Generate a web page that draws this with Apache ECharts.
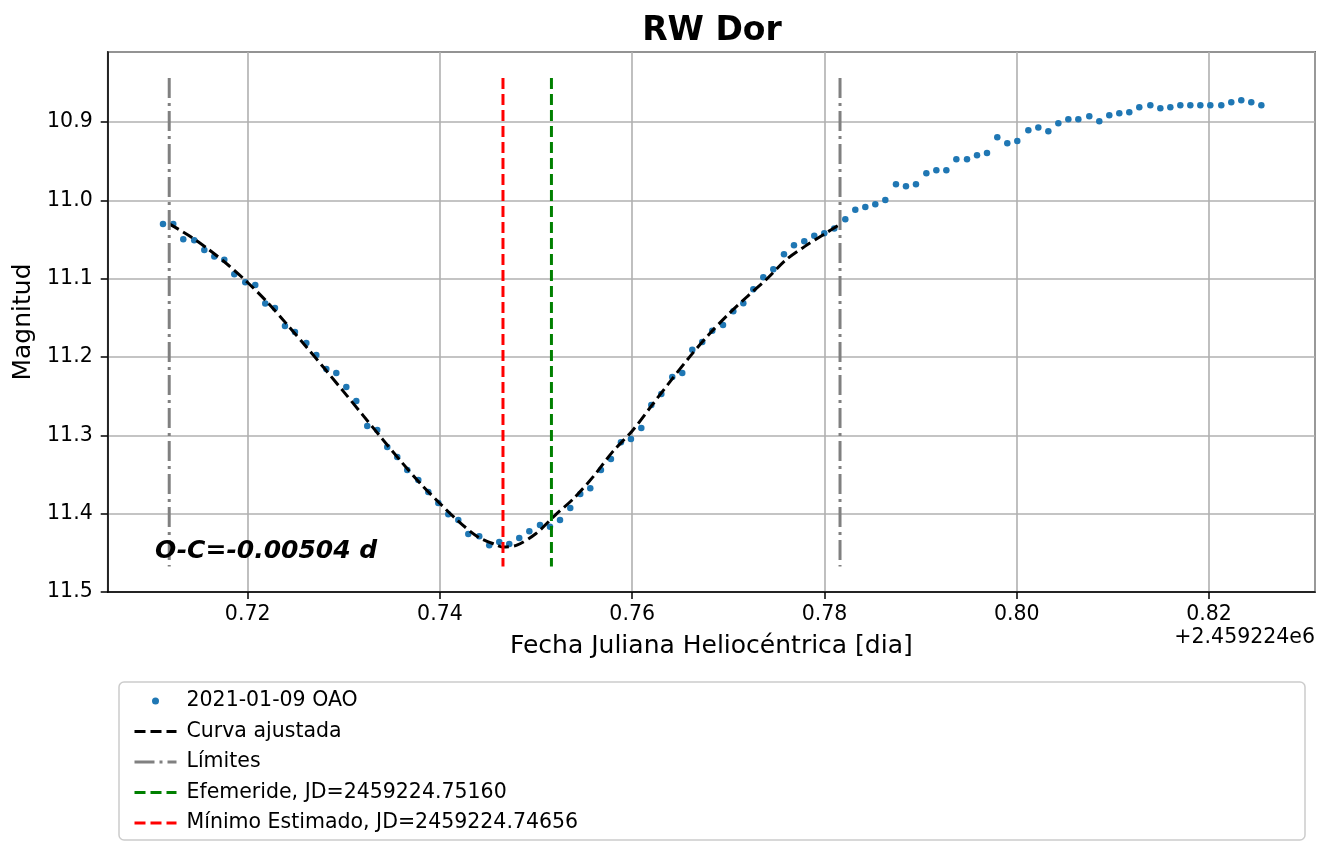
<!DOCTYPE html>
<html>
<head>
<meta charset="utf-8">
<script src="https://cdn.jsdelivr.net/npm/echarts@6/dist/echarts.min.js"></script>
<style>
html,body{margin:0;padding:0;background:#fff;}
#chart{width:1334px;height:856px;}
</style>
</head>
<body>
<div id="chart"></div>
<script>
const obsX = [0.71119,0.71226,0.71330,0.71444,0.71549,0.71653,0.71757,0.71861,0.71975,0.72079,
0.72183,0.72284,0.72388,0.72492,0.72610,0.72714,0.72818,0.72922,0.73026,0.73130,
0.73244,0.73348,0.73452,0.73556,0.73660,0.73775,0.73879,0.73983,0.74087,0.74191,
0.74295,0.74409,0.74513,0.74617,0.74721,0.74825,0.74930,0.75041,0.75145,0.75249,
0.75356,0.75460,0.75564,0.75675,0.75779,0.75883,0.75987,0.76095,0.76199,0.76303,
0.76417,0.76521,0.76625,0.76729,0.76833,0.76945,0.77052,0.77156,0.77260,0.77364,
0.77468,0.77579,0.77683,0.77790,0.77894,0.77998,0.78102,0.78217,0.78321,0.78425,
0.78529,0.78633,0.78744,0.78848,0.78952,0.79060,0.79164,0.79268,0.79372,0.79483,
0.79587,0.79691,0.79798,0.79902,0.80006,0.80121,0.80225,0.80329,0.80433,0.80537,
0.80641,0.80755,0.80859,0.80963,0.81067,0.81171,0.81275,0.81390,0.81494,0.81598,
0.81702,0.81806,0.81910,0.82014,0.82128,0.82232,0.82336,0.82440,0.82545];
const obsMag = [11.0301,11.0301,11.0496,11.0509,11.0636,11.0718,11.0760,11.0943,11.1045,11.1080,
11.1318,11.1376,11.1606,11.1682,11.1822,11.1976,11.2154,11.2205,11.2384,11.2562,
11.2881,11.2932,11.3149,11.3277,11.3443,11.3570,11.3723,11.3863,11.4009,11.4080,
11.4259,11.4289,11.4404,11.4361,11.4386,11.4310,11.4226,11.4144,11.4166,11.4080,
11.3927,11.3749,11.3677,11.3443,11.3303,11.3090,11.3047,11.2907,11.2614,11.2473,
11.2256,11.2205,11.1908,11.1810,11.1666,11.1593,11.1415,11.1313,11.1134,11.0981,
11.0879,11.0688,11.0573,11.0522,11.0454,11.0420,11.0361,11.0241,11.0122,11.0084,
11.0050,10.9995,10.9795,10.9820,10.9795,10.9654,10.9616,10.9616,10.9476,10.9476,
10.9425,10.9395,10.9195,10.9272,10.9242,10.9106,10.9071,10.9119,10.9017,10.8966,
10.8966,10.8927,10.8991,10.8915,10.8889,10.8876,10.8813,10.8787,10.8825,10.8813,
10.8787,10.8787,10.8787,10.8787,10.8787,10.8749,10.8723,10.8749,10.8787];

const fitX = [0.71184,0.714,0.716,0.718,0.720,0.722,0.724,0.726,0.728,0.730,0.732,0.734,0.736,0.738,0.740,0.742,0.744,0.746,0.74656,0.748,0.750,0.752,0.754,0.756,0.758,0.760,0.762,0.764,0.766,0.768,0.770,0.772,0.774,0.776,0.778,0.780,0.78162];
const fitMag = [11.0301,11.0458,11.0633,11.0829,11.1049,11.1295,11.1571,11.1856,11.2148,11.2445,11.2745,11.3045,11.3340,11.3620,11.3870,11.4105,11.4300,11.4405,11.4427,11.4402,11.4253,11.4018,11.3795,11.3520,11.3205,11.2945,11.2625,11.2305,11.1995,11.1710,11.1455,11.1225,11.1005,11.0760,11.0585,11.0430,11.0305];

const limitsX = [0.71184, 0.78162];
const ephemerisX = 0.75160;
const minimumX = 0.74656;
const vlineMag = [10.8439, 11.4676];

const xRange = [0.70544, 0.83103];
const yRange = [10.8107, 11.5];

const labels = {
  title: 'RW Dor',
  xName: 'Fecha Juliana Heliocéntrica [dia]',
  yName: 'Magnitud',
  offset: '+2.459224e6',
  oc: 'O-C=-0.00504 d',
  obs: '2021-01-09 OAO',
  fit: 'Curva ajustada',
  lim: 'Límites',
  eph: 'Efemeride, JD=2459224.75160',
  min: 'Mínimo Estimado, JD=2459224.74656'
};

const FONT = 'DejaVu Sans';
const obsData = obsX.map((x, i) => [x, obsMag[i]]);
const fitData = fitX.map((x, i) => [x, fitMag[i]]);
const vline = x => vlineMag.map(m => [x, m]);
const hiddenSym = {opacity: 0, borderWidth: 0};

const chart = echarts.init(document.getElementById('chart'), null, {renderer: 'canvas'});
chart.setOption({
  animation: false,
  backgroundColor: '#ffffff',
  textStyle: {fontFamily: FONT},
  title: {
    text: labels.title, left: 707, top: 10, textAlign: 'center',
    textStyle: {fontFamily: FONT, fontSize: 33, fontWeight: 'bold', color: '#000'}
  },
  grid: {
    left: 107.7, right: 19, top: 52, bottom: 264, containLabel: false,
    show: true, borderColor: '#000', borderWidth: 1.5, backgroundColor: 'transparent'
  },
  xAxis: {
    type: 'value', min: xRange[0], max: xRange[1],
    splitNumber: 6, minInterval: 0.02, maxInterval: 0.02,
    name: labels.xName, nameLocation: 'middle', nameGap: 42,
    nameTextStyle: {fontFamily: FONT, fontSize: 25, color: '#000'},
    axisLine: {show: true, onZero: false, lineStyle: {color: '#000', width: 1.5}},
    axisTick: {show: true, length: 7, lineStyle: {color: '#000', width: 1.5}},
    axisLabel: {
      fontFamily: FONT, fontSize: 20.5, color: '#000', margin: 12,
      showMinLabel: false, showMaxLabel: false,
      formatter: v => v.toFixed(2)
    },
    splitLine: {show: true, lineStyle: {color: '#b0b0b0', width: 1.6}}
  },
  yAxis: {
    type: 'value', inverse: true, min: yRange[0], max: yRange[1],
    minInterval: 0.1, maxInterval: 0.1,
    name: labels.yName, nameLocation: 'middle', nameGap: 57,
    nameTextStyle: {fontFamily: FONT, fontSize: 25, color: '#000'},
    axisLine: {show: true, onZero: false, lineStyle: {color: '#000', width: 1.5}},
    axisTick: {show: true, length: 7, lineStyle: {color: '#000', width: 1.5}},
    axisLabel: {
      fontFamily: FONT, fontSize: 20.5, color: '#000', margin: 15,
      showMinLabel: false,
      formatter: v => v.toFixed(1)
    },
    splitLine: {show: true, lineStyle: {color: '#b0b0b0', width: 1.6}}
  },
  legend: {
    orient: 'vertical', left: 128, top: 684, z: 10,
    itemWidth: 42, itemHeight: 7, itemGap: 6.5,
    lineStyle: {width: 3},
    textStyle: {fontFamily: FONT, fontSize: 20.5, color: '#000', lineHeight: 24, padding: [0, 0, 0, 5]},
    data: [
      {name: labels.obs, icon: 'circle', itemStyle: {color: '#1f77b4', opacity: 1}},
      {name: labels.fit, itemStyle: hiddenSym, lineStyle: {width: 3, type: [11, 5]}},
      {name: labels.lim, itemStyle: hiddenSym, lineStyle: {width: 3, type: [20, 5, 3, 5]}},
      {name: labels.eph, itemStyle: hiddenSym, lineStyle: {width: 3, type: [11, 5]}},
      {name: labels.min, itemStyle: hiddenSym, lineStyle: {width: 3, type: [11, 5]}}
    ]
  },
  graphic: [
    {type: 'rect', z: 0, shape: {x: 119, y: 682, width: 1186, height: 158, r: 5},
     style: {fill: '#ffffff', stroke: '#cccccc', lineWidth: 1.5}},
    {type: 'text', z: 10, x: 155, y: 551,
     style: {text: labels.oc, font: 'italic bold 25px "DejaVu Sans"', fill: '#000', textVerticalAlign: 'middle', verticalAlign: 'middle'}},
    {type: 'text', z: 10, x: 1315, y: 638,
     style: {text: labels.offset, font: '20.5px "DejaVu Sans"', fill: '#000', textAlign: 'right', align: 'right', verticalAlign: 'middle', textVerticalAlign: 'middle'}}
  ],
  series: [
    {
      name: labels.obs, type: 'scatter', data: obsData, symbol: 'circle', symbolSize: 6.5,
      itemStyle: {color: '#1f77b4', opacity: 1}, z: 2
    },
    {
      name: labels.fit, type: 'line', data: fitData, smooth: 0.3, symbol: 'none', showSymbol: false,
      lineStyle: {color: '#000', width: 3, type: [11, 5]}, itemStyle: {color: '#000'}, z: 3
    },
    {
      name: labels.lim, type: 'line', data: vline(limitsX[0]), symbol: 'none', showSymbol: false,
      lineStyle: {color: '#808080', width: 3, type: [20, 5, 3, 5]}, itemStyle: {color: '#808080'}, z: 4
    },
    {
      name: labels.lim, type: 'line', data: vline(limitsX[1]), symbol: 'none', showSymbol: false,
      lineStyle: {color: '#808080', width: 3, type: [20, 5, 3, 5]}, itemStyle: {color: '#808080'}, z: 4
    },
    {
      name: labels.eph, type: 'line', data: vline(ephemerisX), symbol: 'none', showSymbol: false,
      lineStyle: {color: '#008000', width: 3, type: [11, 5]}, itemStyle: {color: '#008000'}, z: 5
    },
    {
      name: labels.min, type: 'line', data: vline(minimumX), symbol: 'none', showSymbol: false,
      lineStyle: {color: '#ff0000', width: 3, type: [11, 5]}, itemStyle: {color: '#ff0000'}, z: 6
    }
  ]
});
</script>
</body>
</html>
